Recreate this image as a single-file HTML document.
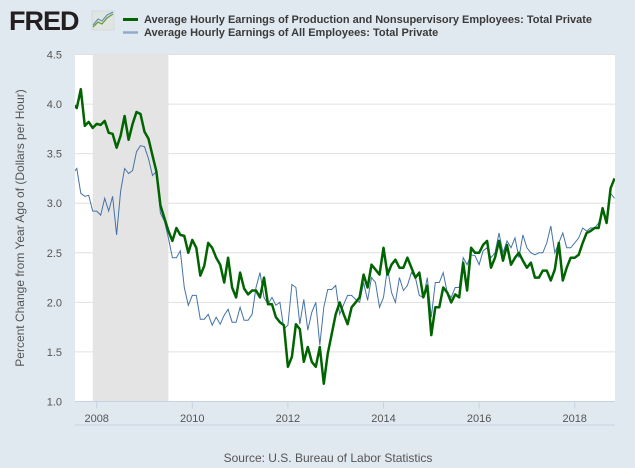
<!DOCTYPE html>
<html><head><meta charset="utf-8"><style>
body{margin:0;background:#e1e9f0;}
svg{display:block;font-family:"Liberation Sans",sans-serif;}
</style></head><body>
<svg id="c" width="635" height="468">
<rect width="635" height="468" fill="#e1e9f0"/>
<g>
<text x="9" y="30" font-size="27" font-weight="bold" fill="#231f20" letter-spacing="-1">FRED</text>
<rect x="92" y="11" width="22" height="19" fill="#dfe5e0" stroke="#c8d0d0" stroke-width="0.5"/>
<polyline points="93,27 98,22 102,24 107,18 113,14" fill="none" stroke="#6a9a3a" stroke-width="1.3"/>
<polyline points="93,25 98,19 102,21 107,15 113,12" fill="none" stroke="#5b84b8" stroke-width="1"/>
</g>
<g>
<line x1="123" y1="19.5" x2="138" y2="19.5" stroke="#006400" stroke-width="3"/>
<text x="144" y="23" font-size="11" font-weight="bold" fill="#3a3a3a">Average Hourly Earnings of Production and Nonsupervisory Employees: Total Private</text>
<line x1="123" y1="32.5" x2="138" y2="32.5" stroke="#91aacb" stroke-width="2.5"/>
<text x="144" y="36" font-size="11" font-weight="bold" fill="#3a3a3a">Average Hourly Earnings of All Employees: Total Private</text>
</g>
<rect x="75" y="54.5" width="540" height="347" fill="#fff"/>
<g id="grid"></g>
<g id="rec"></g>
<g id="series"></g>
<g id="axes"></g>
<text transform="translate(24,228) rotate(-90)" text-anchor="middle" font-size="12" fill="#555">Percent Change from Year Ago of (Dollars per Hour)</text>
<text x="328" y="462" text-anchor="middle" font-size="12" fill="#555">Source: U.S. Bureau of Labor Statistics</text>
</svg>
<script>
const startYear = 2007, startMonth = 6; // July 2007 (0-based month)
const yTicks = [1.0,1.5,2.0,2.5,3.0,3.5,4.0,4.5];
const xTicks = [2008,2010,2012,2014,2016,2018];
const recession = [2007.917, 2009.5];
const production = [4.0,3.96,4.15,3.78,3.82,3.76,
3.80,3.79,3.83,3.71,3.70,3.56,3.68,3.88,3.64,3.80,3.92,3.90,
3.72,3.65,3.48,3.32,2.98,2.85,2.72,2.62,2.75,2.68,2.67,2.50,
2.63,2.55,2.27,2.37,2.60,2.55,2.45,2.38,2.20,2.45,2.15,2.05,
2.30,2.14,2.08,2.12,2.12,2.05,2.25,1.98,1.98,1.85,1.80,1.77,
1.35,1.45,1.78,1.73,1.40,1.55,1.40,1.35,1.55,1.18,1.48,1.68,
1.88,2.0,1.88,1.78,1.95,2.0,2.05,2.28,2.15,2.38,2.33,2.28,
2.55,2.28,2.38,2.43,2.35,2.35,2.45,2.35,2.25,2.30,2.05,2.17,
1.67,1.95,1.95,2.15,2.10,2.0,2.08,2.05,2.40,2.12,2.55,2.50,
2.50,2.58,2.62,2.35,2.45,2.62,2.42,2.58,2.38,2.45,2.50,2.42,
2.35,2.40,2.25,2.25,2.32,2.32,2.22,2.33,2.60,2.22,2.35,2.45,
2.45,2.48,2.60,2.70,2.72,2.75,2.75,2.95,2.80,3.15,3.25];
const allEmployees = [3.30,3.35,3.10,3.07,3.08,2.92,
2.92,2.88,3.05,2.92,3.07,2.68,3.12,3.35,3.30,3.33,3.52,3.58,
3.57,3.45,3.28,3.32,2.90,2.82,2.65,2.45,2.45,2.52,2.15,1.97,
2.07,2.07,1.83,1.83,1.88,1.77,1.85,1.78,1.87,1.93,1.80,1.80,
1.95,1.82,1.82,1.88,2.15,2.30,2.05,1.98,2.05,1.97,2.0,1.73,
1.77,2.18,2.15,1.78,2.03,1.72,1.90,2.0,1.57,1.95,2.13,2.13,
2.17,1.88,1.98,2.07,2.07,2.03,2.0,2.20,2.02,2.25,2.20,1.95,
2.05,2.35,2.10,2.0,2.25,2.12,2.17,2.30,2.25,2.07,2.05,2.25,
1.85,2.20,2.20,2.30,2.10,2.05,2.15,2.15,2.45,2.38,2.48,2.47,
2.38,2.52,2.55,2.45,2.50,2.70,2.50,2.62,2.55,2.65,2.45,2.68,
2.55,2.50,2.48,2.50,2.50,2.60,2.77,2.50,2.60,2.70,2.55,2.55,
2.60,2.65,2.75,2.72,2.75,2.75,2.80,2.92,2.82,3.10,3.05];
const NS="http://www.w3.org/2000/svg";
const L=75,R=615,T=54.5,B=401.5;
function xs(t){return 96.7+(t-2008)*47.8;}
function ys(v){return B-(v-1)*(B-T)/3.5;}
function mk(tag,attrs,parent){const e=document.createElementNS(NS,tag);for(const k in attrs)e.setAttribute(k,attrs[k]);parent.appendChild(e);return e;}
const grid=document.getElementById('grid'),axes=document.getElementById('axes'),rec=document.getElementById('rec'),ser=document.getElementById('series');
yTicks.forEach(v=>{
  if(v>1){const l=mk('line',{x1:L,x2:R,y1:ys(v),y2:ys(v),stroke:'#e0e0e0','stroke-width':1},grid);
  
  }
  const t=mk('text',{x:62,y:ys(v)+4,'text-anchor':'end','font-size':11,fill:'#555'},axes);
  t.textContent=v.toFixed(1);
  
  
});
const r=mk('rect',{x:xs(recession[0]),y:T,width:xs(recession[1])-xs(recession[0]),height:B-T,fill:'#e4e4e4'},rec);


mk('line',{x1:L,x2:R,y1:B,y2:B,stroke:'#c5d3e3','stroke-width':1},axes);
mk('line',{x1:L,x2:R,y1:425,y2:425,stroke:'#c5d3e3','stroke-width':1},axes);
xTicks.forEach(y=>{
  mk('line',{x1:xs(y),x2:xs(y),y1:B,y2:B+7,stroke:'#c5d3e3','stroke-width':1},axes);
  const t=mk('text',{x:xs(y),y:422,'text-anchor':'middle','font-size':11,fill:'#555'},axes);
  t.textContent=y;
  
  
});
function pts(arr){return arr.map((v,i)=>{const t=startYear+(startMonth+i)/12;return xs(t).toFixed(1)+','+ys(v).toFixed(1);}).join(' ');}
mk('clipPath',{id:'clp'},ser);
mk('rect',{x:L,y:T,width:R-L,height:B-T},document.getElementById('clp'));
const a=mk('polyline',{points:pts(allEmployees),fill:'none',stroke:'#4572a7','stroke-width':1,'clip-path':'url(#clp)'},ser);


const p=mk('polyline',{points:pts(production),fill:'none',stroke:'#006400','stroke-width':2.5,'stroke-linejoin':'round','clip-path':'url(#clp)'},ser);


</script>
</body></html>
